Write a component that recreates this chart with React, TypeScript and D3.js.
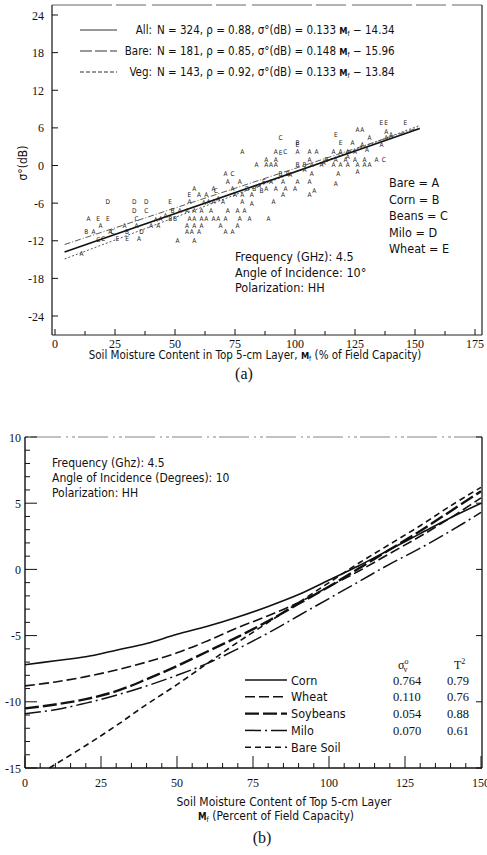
import React from "react";
import * as d3 from "d3";

// ---------- Panel (a) data ----------
const aYTicks = [24, 18, 12, 6, 0, -6, -12, -18, -24];
const aXTicks = [0, 25, 50, 75, 100, 125, 150, 175];
const regM = [4, 152];
const regAll = [-13.8, 5.9];
const regBare = [-14.9, 6.4];
const regVeg = [-12.6, 6.1];

const pointsA: [number, number][] = [
  [126, 5.8], [128, 5.8], [138, 5.5], [131, 4.5], [138, 4.4], [124, 3.6], [128, 3.3], [140, 5.0],
  [78, 2.3], [92, 2.2], [101, 2.2], [106, 2.2], [109, 2.2], [116, 2.2], [119, 2.2], [122, 2.2], [125, 2.2],
  [88, 0.9], [92, 0.9], [106, 0.9], [117, 0.9], [121, 0.9], [125, 0.9], [129, 0.9], [134, 0.9],
  [84, 0.1], [88, 0.1], [90, 0.1], [92, 0.1], [107, 0.1], [111, 0.1], [116, 0.1], [119, 0.1], [122, 0.1], [126, 0.1], [129, 0.1], [131, 0.1],
  [71, -1.2], [107, -1.2], [118, -1.2], [126, -1.0],
  [72, -2.6], [77, -2.6], [95, -2.6], [101, -2.6], [106, -2.6], [117, -2.9],
  [58, -3.6], [66, -3.6], [74, -3.6], [88, -3.6], [92, -3.6], [96, -3.6], [100, -3.6], [108, -4.0],
  [60, -4.7], [63, -4.7], [75, -4.7], [78, -4.7], [82, -4.7], [95, -4.7], [106, -4.7],
  [56, -5.8], [64, -5.8], [66, -5.8], [70, -5.8], [78, -5.8], [82, -6.0], [91, -5.8],
  [55, -7.1], [58, -7.1], [61, -7.1], [65, -7.1], [72, -7.1], [76, -7.1], [79, -7.1],
  [14, -8.4], [44, -8.4], [56, -8.4], [58, -8.4], [61, -8.4], [63, -8.4], [66, -8.4], [68, -8.4], [71, -8.4], [77, -8.4], [81, -8.4], [89, -8.4],
  [19, -9.5], [29, -9.5], [34, -9.5], [40, -9.5], [43, -9.5], [55, -9.5], [58, -9.5], [61, -9.5], [69, -9.5], [76, -9.5],
  [16, -10.6], [23, -10.6], [55, -10.6], [57, -10.6], [60, -10.6], [71, -10.6], [74, -10.6],
  [35, -11.6], [51, -12.0], [58, -12.0], [11, -14.0],
  [42, -8.6], [46, -7.9], [52, -7.1], [62, -5.9], [68, -5.3], [85, -3.2], [90, -2.5], [98, -1.5], [104, -0.6], [112, 0.4], [122, 1.5], [130, 2.6], [136, 3.3],
];
const pointsB: [number, number][] = [
  [94, -1.2], [97, -1.2], [113, 0.9], [101, 0.1], [80, -3.6], [83, -3.6], [49, -7.1], [48, -8.4], [50, -8.4],
  [13, -10.6], [30, -10.6], [101, 3.6], [86, -4.0], [104, 0.1],
];
const pointsC: [number, number][] = [
  [94, 4.5], [96, 2.2], [74, -1.2], [38, -7.1], [34, -8.4], [20, -11.6], [24, -10.6], [137, 0.9], [18, -11.8], [67, -4.0],
];
const pointsD: [number, number][] = [
  [33, -5.8], [38, -5.8], [33, -7.1], [36, -10.6], [22, -5.8],
];
const pointsE: [number, number][] = [
  [136, 6.9], [138, 6.9], [146, 6.8], [117, 4.9], [119, 3.6], [101, 3.3], [94, 2.1], [48, -5.8], [56, -4.7],
  [18, -8.4], [22, -8.4], [26, -11.6], [30, -11.6], [87, -2.6],
];

// ---------- Panel (b) data ----------
const bYTicks = [10, 5, 0, -5, -10, -15];
const bXTicks = [0, 25, 50, 75, 100, 125, 150];
const curveM = [0, 10, 20, 30, 40, 50, 60, 70, 80, 90, 100, 110, 120, 130, 140, 150];
const corn = [-7.2, -6.9, -6.6, -6.1, -5.6, -4.9, -4.3, -3.6, -2.8, -1.9, -0.8, 0.3, 1.5, 2.7, 3.9, 5.0];
const wheat = [-8.8, -8.5, -8.1, -7.6, -7.0, -6.3, -5.4, -4.4, -3.5, -2.5, -1.3, -0.1, 1.2, 2.5, 3.9, 5.4];
const soybeans = [-10.5, -10.2, -9.8, -9.2, -8.3, -7.3, -6.2, -5.1, -3.9, -2.6, -1.3, 0.1, 1.5, 2.9, 4.4, 5.9];
const milo = [-10.9, -10.6, -10.1, -9.5, -8.8, -8.0, -7.1, -6.0, -4.8, -3.5, -2.2, -0.9, 0.4, 1.6, 2.9, 4.3];
const bareM = [8, 20, 30, 40, 50, 60, 70, 80, 90, 100, 110, 120, 130, 140, 150];
const bareSoil = [-15, -13.3, -11.8, -10.2, -8.7, -7.1, -5.5, -4.0, -2.5, -1.0, 0.5, 1.9, 3.3, 4.8, 6.2];
const legendNames = ["Corn", "Wheat", "Soybeans", "Milo", "Bare Soil"];
const legendSigma = ["0.764", "0.110", "0.054", "0.070", ""];
const legendT2 = ["0.79", "0.76", "0.88", "0.61", ""];

const SANS = "'Liberation Sans Narrow', 'DejaVu Sans Condensed', 'Liberation Sans', sans-serif";
const SERIF = "'Liberation Serif', 'DejaVu Serif', serif";

export default function App() {
  const xA = d3.scaleLinear().domain([0, 175]).range([55, 475]);
  const yA = d3.scaleLinear().domain([24, -24]).range([15, 316]);
  const aL = 52, aR = 482, aT = 5, aB = 335;
  const xB = d3.scaleLinear().domain([0, 150]).range([25, 481]);
  const yB = d3.scaleLinear().domain([10, -15]).range([437, 768]);
  const bL = 25, bR = 482, bT = 437, bB = 768;

  const lineA = d3.line<number>().x((_, i) => xA(regM[i])).y((d) => yA(d));
  const curve = (vals: number[], ms: number[]) =>
    d3.line<number>().x((_, i) => xB(ms[i])).y((d) => yB(d)).curve(d3.curveCatmullRom)(vals) || "";

  const aMinor = d3.range(0, 176, 12.5);
  const bYMinor = d3.range(-15, 10.01, 1);
  const bXMinor = d3.range(0, 150.01, 5);

  const letterSets: [string, [number, number][]][] = [
    ["A", pointsA], ["B", pointsB], ["C", pointsC], ["D", pointsD], ["E", pointsE],
  ];

  const styles = [
    { dash: "", w: 1.6 },
    { dash: "10,4", w: 1.6 },
    { dash: "14,4", w: 2.4 },
    { dash: "16,4,2,4", w: 1.5 },
    { dash: "6,4", w: 1.6 },
  ];
  const curves = [corn, wheat, soybeans, milo];

  const mf = (size: number) => (
    <>
      <tspan fontWeight="bold" fontSize={size * 0.8}>M</tspan>
      <tspan fontSize={size * 0.6} dy={2}>f</tspan>
      <tspan dy={-2}> </tspan>
    </>
  );

  const legA = [
    { lab: "All:", rest: ["N = 324, ρ = 0.88, σ°(dB) = 0.133 ", " − 14.34"], dash: "", w: 1 },
    { lab: "Bare:", rest: ["N = 181, ρ = 0.85, σ°(dB) = 0.148 ", " − 15.96"], dash: "12,3", w: 1 },
    { lab: "Veg:", rest: ["N = 143, ρ = 0.92, σ°(dB) = 0.133 ", " − 13.84"], dash: "4,2", w: 1 },
  ];
  const legAY = [30, 51, 72];

  return (
    <div>
      <style>{`body{margin:0;background:#fff}`}</style>
      <svg width={487} height={855} style={{ display: "block" }} fill="#111">
        <rect width={487} height={855} fill="#fff" />
        {/* ================= Panel (a) ================= */}
        <line x1={aL} x2={aR} y1={aT} y2={aT} stroke="#666" strokeWidth={1} strokeDasharray="60,4,30,6" />
        <line x1={aL} x2={aL} y1={aT} y2={aB} stroke="#111" strokeWidth={1.2} />
        <line x1={aR} x2={aR} y1={aT} y2={aB} stroke="#222" strokeWidth={1.2} />
        <line x1={aL} x2={aR} y1={aB} y2={aB} stroke="#222" strokeWidth={1} />
        {aYTicks.map((t) => (
          <g key={"ay" + t}>
            <line x1={aL} x2={aL + 6} y1={yA(t)} y2={yA(t)} stroke="#111" />
            <text x={44} y={yA(t) + 4.5} textAnchor="end" fontFamily={SERIF} fontSize={12}>{t}</text>
          </g>
        ))}
        {aMinor.map((t) => (
          <line key={"axm" + t} x1={xA(t)} x2={xA(t)} y1={aB} y2={aB - (t % 25 === 0 ? 6 : 4)} stroke="#111" />
        ))}
        {aXTicks.map((t) => (
          <text key={"ax" + t} x={xA(t)} y={348} textAnchor="middle" fontFamily={SERIF} fontSize={12}>{t}</text>
        ))}
        <text transform="translate(27,163) rotate(-90)" textAnchor="middle" fontFamily={SANS} fontSize={12}>σ°(dB)</text>
        <text x={255} y={359} textAnchor="middle" fontFamily={SANS} fontSize={11.5}>
          Soil Moisture Content in Top 5-cm Layer,{"  "}{mf(11.5)}(% of Field Capacity)
        </text>
        <text x={244} y={379} textAnchor="middle" fontFamily={SERIF} fontSize={16}>(a)</text>

        {legA.map((l, i) => (
          <g key={"la" + i}>
            <line x1={80} x2={117} y1={legAY[i]} y2={legAY[i]} stroke="#333" strokeWidth={l.w} strokeDasharray={l.dash} />
            <text x={152} y={legAY[i] + 4} textAnchor="end" fontFamily={SANS} fontSize={11.5}>{l.lab}</text>
            <text x={157} y={legAY[i] + 4} fontFamily={SANS} fontSize={11.5}>
              {l.rest[0]}{mf(11.5)}{l.rest[1]}
            </text>
          </g>
        ))}

        <path d={lineA(regVeg) || ""} fill="none" stroke="#444" strokeWidth={0.9} strokeDasharray="6,2,1,2" />
        <path d={lineA(regBare) || ""} fill="none" stroke="#444" strokeWidth={0.9} strokeDasharray="2,2" />
        <path d={lineA(regAll) || ""} fill="none" stroke="#111" strokeWidth={1.6} />

        {letterSets.map(([L, pts]) =>
          pts.map((p, i) => (
            <text key={L + i} x={xA(p[0])} y={yA(p[1]) + 2.5} textAnchor="middle" fontFamily={SANS} fontSize={6.5} fill="#222">{L}</text>
          ))
        )}

        {["Bare = A", "Corn = B", "Beans = C", "Milo = D", "Wheat = E"].map((s, i) => (
          <text key={"cc" + i} x={389} y={187 + i * 16.5} fontFamily={SANS} fontSize={12.5}>{s}</text>
        ))}
        {["Frequency (GHz):  4.5", "Angle of Incidence:  10°", "Polarization:  HH"].map((s, i) => (
          <text key={"fa" + i} x={235} y={261 + i * 15.5} fontFamily={SANS} fontSize={12.5}>{s}</text>
        ))}

        {/* ================= Panel (b) ================= */}
        <line x1={bL} x2={bR} y1={bT} y2={bT} stroke="#777" strokeWidth={0.9} strokeDasharray="3,3,30,5,2,4" />
        <line x1={bL} x2={bL} y1={bT} y2={bB} stroke="#111" strokeWidth={1.4} />
        <line x1={bR} x2={bR} y1={bT} y2={bB} stroke="#111" strokeWidth={1.3} />
        <line x1={bL} x2={bR} y1={bB} y2={bB} stroke="#111" strokeWidth={1.3} />
        {bYMinor.map((t) => (
          <line key={"bym" + t} x1={bL} x2={bL + (Math.round(t) % 5 === 0 ? 12 : 5)} y1={yB(t)} y2={yB(t)} stroke="#111" />
        ))}
        {bYTicks.map((t) => (
          <g key={"by" + t}>
            <line x1={bR} x2={bR - 6} y1={yB(t)} y2={yB(t)} stroke="#111" />
            <text x={21} y={yB(t) + 4.5} textAnchor="end" fontFamily={SERIF} fontSize={12}>{t}</text>
          </g>
        ))}
        {bXMinor.map((t) => (
          <line key={"bxm" + t} x1={xB(t)} x2={xB(t)} y1={bB} y2={bB - (t % 25 === 0 ? 12 : 5)} stroke="#111" />
        ))}
        {bXTicks.map((t) => (
          <text key={"bx" + t} x={xB(t)} y={787} textAnchor="middle" fontFamily={SERIF} fontSize={12}>{t}</text>
        ))}
        <text x={284} y={806} textAnchor="middle" fontFamily={SANS} fontSize={12}>Soil Moisture Content of Top 5-cm Layer</text>
        <text x={276} y={820} textAnchor="middle" fontFamily={SANS} fontSize={12}>
          {mf(12)}(Percent of Field Capacity)
        </text>
        <text x={262} y={843} textAnchor="middle" fontFamily={SERIF} fontSize={16}>(b)</text>

        {["Frequency (Ghz): 4.5", "Angle of Incidence (Degrees): 10", "Polarization: HH"].map((s, i) => (
          <text key={"fb" + i} x={52} y={467 + i * 15} fontFamily={SANS} fontSize={12}>{s}</text>
        ))}

        <path d={curve(bareSoil, bareM)} fill="none" stroke="#111" strokeWidth={styles[4].w} strokeDasharray={styles[4].dash} />
        {curves.map((c, i) => (
          <path key={"cv" + i} d={curve(c, curveM)} fill="none" stroke="#111" strokeWidth={styles[i].w} strokeDasharray={styles[i].dash} />
        ))}

        <text x={398} y={669} fontFamily={SERIF} fontSize={12}>σ<tspan fontSize={8} dy={-5}>o</tspan><tspan fontSize={8} dy={8} dx={-5}>v</tspan></text>
        <text x={454} y={669} fontFamily={SERIF} fontSize={12}>T<tspan fontSize={8} dy={-5}>2</tspan></text>
        {legendNames.map((n, i) => {
          const y = 680 + i * 16.8;
          return (
            <g key={"lb" + i}>
              <line x1={245} x2={287} y1={y} y2={y} stroke="#111" strokeWidth={styles[i].w} strokeDasharray={styles[i].dash} />
              <text x={291} y={y + 4.5} fontFamily={SANS} fontSize={12.5}>{n}</text>
              <text x={393} y={y + 4.5} fontFamily={SERIF} fontSize={12.5}>{legendSigma[i]}</text>
              <text x={447} y={y + 4.5} fontFamily={SERIF} fontSize={12.5}>{legendT2[i]}</text>
            </g>
          );
        })}
      </svg>
    </div>
  );
}
